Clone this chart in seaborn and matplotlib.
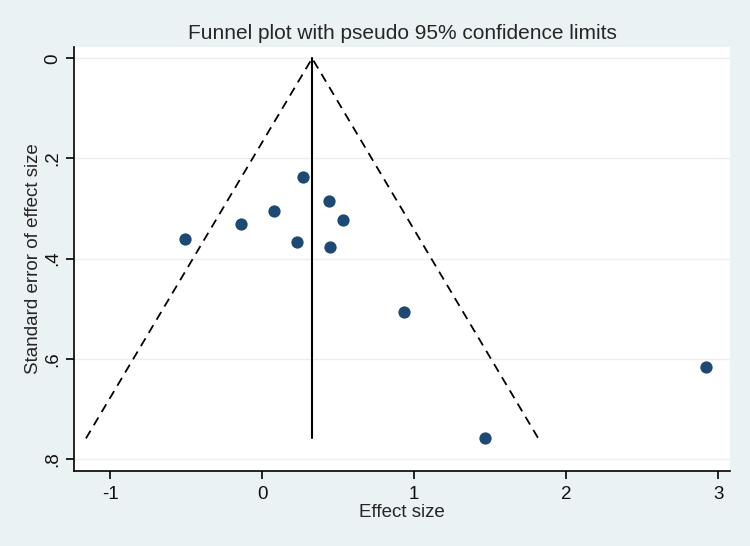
import numpy as np
import pandas as pd
import matplotlib
matplotlib.use("Agg")
import matplotlib.pyplot as plt
import seaborn as sns

# Study data
effect_size = [0.270, 0.439, 0.529, 0.077, -0.142, -0.507, 0.230, 0.445, 0.934, 1.463, 2.917]
std_error = [0.236, 0.285, 0.323, 0.305, 0.331, 0.361, 0.367, 0.377, 0.506, 0.759, 0.616]
pooled_effect = 0.329
x_ticks = [-1, 0, 1, 2, 3]
y_ticks = [0, 0.2, 0.4, 0.6, 0.8]
y_ticklabels = ["0", ".2", ".4", ".6", ".8"]

sns.set_style("white")
plt.rcParams['font.family'] = ['Liberation Sans', 'DejaVu Sans']

bg = "#eaf2f3"
fig = plt.figure(figsize=(7.5, 5.46), dpi=100, facecolor=bg)
ax = fig.add_axes([0.0993, 0.1374, 0.874, 0.7765])
ax.set_facecolor("white")

df = pd.DataFrame({"es": effect_size, "se": std_error})
se_max = max(std_error)
z = 1.96
funnel = pd.DataFrame({
    "x": [pooled_effect - z * se_max, pooled_effect, pooled_effect + z * se_max],
    "y": [se_max, 0.0, se_max],
})

for yt in y_ticks:
    ax.axhline(yt, color="#eeeeee", lw=1.0, zorder=0)

ax.plot(funnel["x"], funnel["y"], color="black", lw=1.3, ls=(0, (5, 3.5)), zorder=2)
ax.plot([pooled_effect, pooled_effect], [0, se_max], color="black", lw=1.5, zorder=2)

sns.scatterplot(data=df, x="es", y="se", ax=ax, color="#1c4a75", s=78,
                edgecolor="#1c4a75", linewidth=0, zorder=3)

ax.set_xlim(-1.234, 3.077)
ax.set_ylim(0.824, -0.0226)
ax.set_xticks(x_ticks)
ax.set_xticklabels([str(t) for t in x_ticks])
ax.set_yticks(y_ticks)
ax.set_yticklabels(y_ticklabels, rotation=90, va="center")

for s in ["top", "right"]:
    ax.spines[s].set_visible(False)
for s in ["left", "bottom"]:
    ax.spines[s].set_color("black")
    ax.spines[s].set_linewidth(1.2)

ax.tick_params(axis="both", direction="out", length=5.5, width=1.2, color="black",
               labelsize=13.5, labelcolor="#111111", pad=4, bottom=True, left=True)
ax.tick_params(axis="x", pad=5)

ax.set_xlabel("Effect size", fontsize=13.5, labelpad=1)
ax.set_ylabel("Standard error of effect size", fontsize=13.5, labelpad=2)
ax.set_title("Funnel plot with pseudo 95% confidence limits", fontsize=15, pad=6)

fig.savefig("out.png", dpi=100, facecolor=bg)
